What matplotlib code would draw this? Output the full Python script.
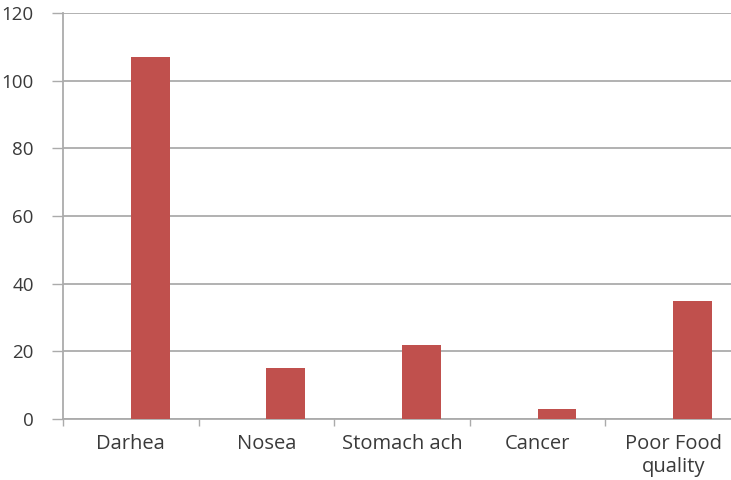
import matplotlib
matplotlib.use("Agg")
import matplotlib.pyplot as plt
import numpy as np

categories = ["Darhea", "Nosea", "Stomach ach", "Cancer", "Poor Food\nquality"]
values = [107, 15, 22, 3, 35]
y_ticks = [0, 20, 40, 60, 80, 100, 120]

plt.rcParams["font.family"] = ["Open Sans", "DejaVu Sans"]

fig = plt.figure(figsize=(7.31, 4.80), dpi=100)
ax = fig.add_axes([63 / 731, 1 - 419 / 480, (741 - 63) / 731, (419 - 13) / 480])

# two-slot clustered layout: bars sit in the right-hand slot of each category
slot = 1 / 3.5
x = np.arange(len(categories))
ax.bar(x + slot / 2, values, width=slot, color="#C0504D", zorder=3)

ax.set_xlim(-0.5, len(categories) - 0.5)
ax.set_ylim(0, 120)
ax.set_yticks(y_ticks)
ax.set_yticklabels([str(v) for v in y_ticks])

grid_c = "#ABABAB"
text_c = "#3A3A3A"
ax.yaxis.grid(True, color=grid_c, linewidth=1.3, zorder=0)
ax.tick_params(axis="y", length=8, width=1.0, color=grid_c, pad=13,
               labelsize=13.5, labelcolor=text_c)

# boundary ticks between categories, labels centred on each category
ax.set_xticks(np.arange(len(categories) + 1) - 0.5)
ax.set_xticklabels([""] * (len(categories) + 1))
ax.tick_params(axis="x", which="major", length=5, width=1.0, color=grid_c)
ax.set_xticks(x, minor=True)
ax.set_xticklabels(categories, minor=True)
ax.tick_params(axis="x", which="minor", length=0, pad=11, labelsize=14.5,
               labelcolor=text_c)
for lbl in ax.get_xticklabels(minor=True):
    lbl.set_linespacing(1.15)

for side in ["top", "right"]:
    ax.spines[side].set_visible(False)
for side in ["left", "bottom"]:
    ax.spines[side].set_color(grid_c)
    ax.spines[side].set_linewidth(1.3)

fig.savefig("out.png", dpi=100, facecolor="white")
